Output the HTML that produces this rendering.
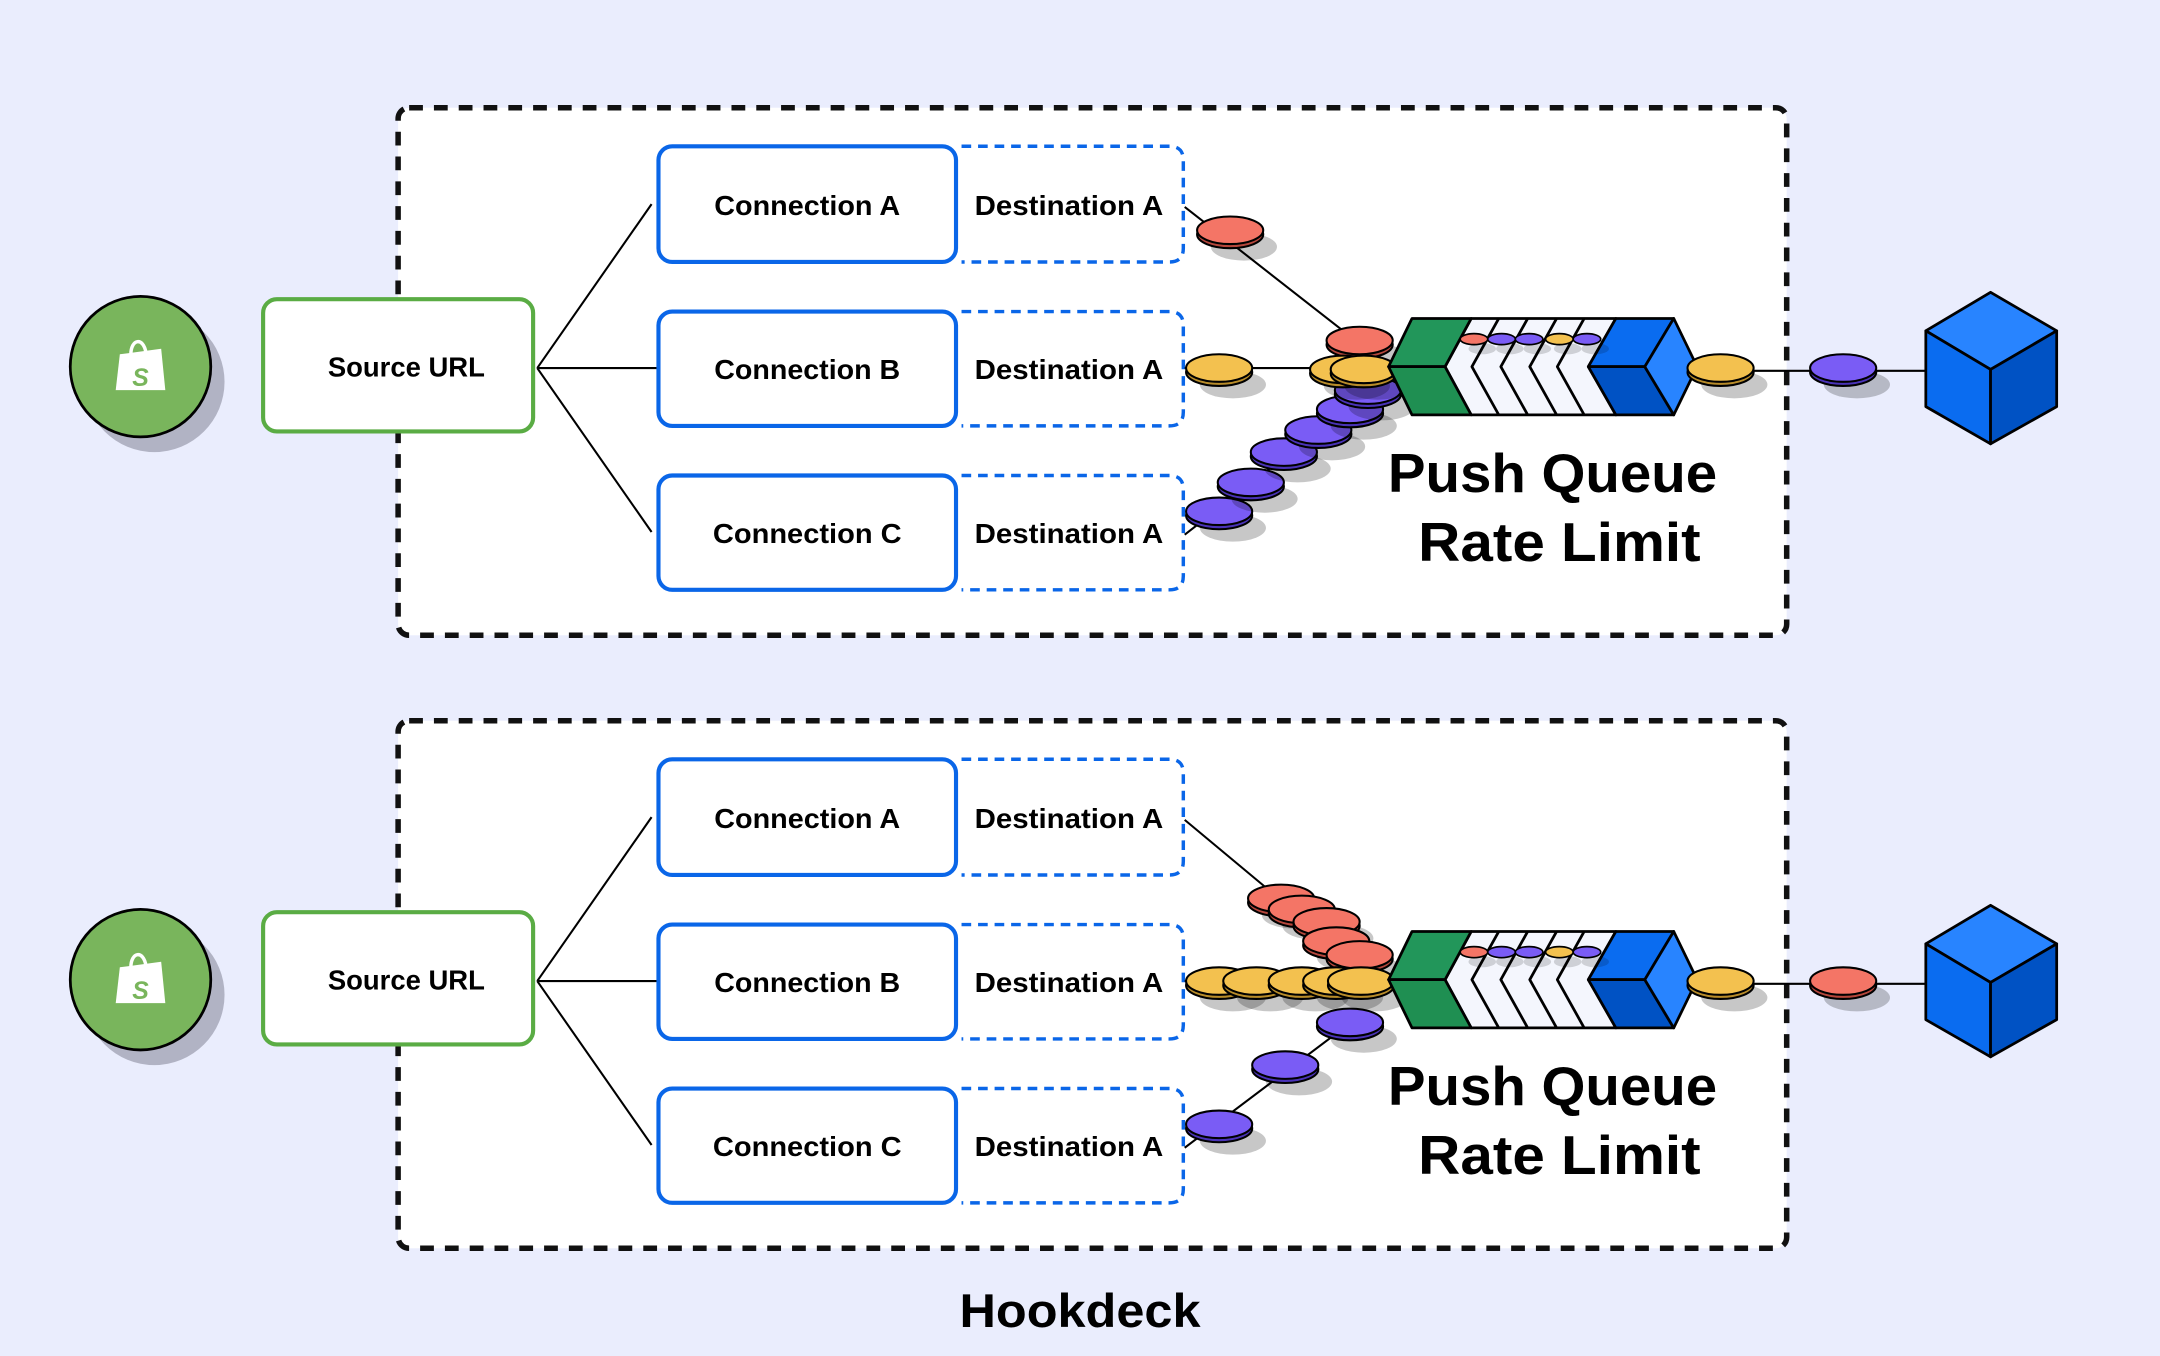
<!DOCTYPE html>
<html><head><meta charset="utf-8"><style>
html,body{margin:0;padding:0;background:#eaedfd;}
svg{display:block}
text{font-family:"Liberation Sans",sans-serif;font-weight:bold;fill:#000}
</style></head><body>
<svg width="2160" height="1356" viewBox="0 0 1568 984" xmlns="http://www.w3.org/2000/svg">
<defs>
<g id="pr"><ellipse cx="10" cy="12" rx="24" ry="10" fill="#000" opacity=".22"/><ellipse cx="0" cy="3" rx="24" ry="10" fill="#b5473c" stroke="#000" stroke-width="1.5"/><ellipse cx="0" cy="0" rx="24" ry="10" fill="#f47566" stroke="#000" stroke-width="1.5"/></g>
<g id="py"><ellipse cx="10" cy="12" rx="24" ry="10" fill="#000" opacity=".22"/><ellipse cx="0" cy="3" rx="24" ry="10" fill="#b88c2a" stroke="#000" stroke-width="1.5"/><ellipse cx="0" cy="0" rx="24" ry="10" fill="#f3c14f" stroke="#000" stroke-width="1.5"/></g>
<g id="pp"><ellipse cx="10" cy="12" rx="24" ry="10" fill="#000" opacity=".22"/><ellipse cx="0" cy="3" rx="24" ry="10" fill="#4a33b8" stroke="#000" stroke-width="1.5"/><ellipse cx="0" cy="0" rx="24" ry="10" fill="#7a5cf5" stroke="#000" stroke-width="1.5"/></g>

<g id="panel">
  <rect x="289" y="78" width="1008" height="383" rx="8" fill="#fff" stroke="#111" stroke-width="4" stroke-dasharray="10 8"/>
  <!-- shopify -->
  <circle cx="112" cy="277" r="51" fill="#b1b3c4"/>
  <circle cx="102" cy="266" r="51" fill="#79b55c" stroke="#000" stroke-width="2"/>
  <path d="M87 257 L117 253 L120 283 L84 283 Z" fill="#fff"/>
  <path d="M95 257 C95 246 104 244 106 256" fill="none" stroke="#fff" stroke-width="2.5"/>
  <text x="96" y="280" font-size="18" fill="#79b55c" style="fill:#79b55c;font-style:italic">S</text>
  <!-- source -->
  <rect x="191" y="217" width="196" height="96" rx="10" fill="#fff" stroke="#5aac44" stroke-width="3"/>
  <text x="295" y="273" font-size="20" text-anchor="middle" textLength="114" lengthAdjust="spacingAndGlyphs">Source URL</text>
  <path d="M390 267 L473 148 M390 267 L477 267 M390 267 L473 386" stroke="#000" stroke-width="1.5" fill="none"/>
  <!-- connections -->
  <rect x="478" y="106" width="216" height="84" rx="10" fill="#fff" stroke="#0a66e8" stroke-width="3"/>
  <rect x="478" y="226" width="216" height="83" rx="10" fill="#fff" stroke="#0a66e8" stroke-width="3"/>
  <rect x="478" y="345" width="216" height="83" rx="10" fill="#fff" stroke="#0a66e8" stroke-width="3"/>
  <text x="586" y="156" font-size="20" text-anchor="middle" textLength="135" lengthAdjust="spacingAndGlyphs">Connection A</text>
  <text x="586" y="275" font-size="20" text-anchor="middle" textLength="135" lengthAdjust="spacingAndGlyphs">Connection B</text>
  <text x="586" y="394" font-size="20" text-anchor="middle" textLength="137" lengthAdjust="spacingAndGlyphs">Connection C</text>
  <g fill="none" stroke="#0a66e8" stroke-width="2.5" stroke-dasharray="7 5">
    <path d="M698 106 H849 Q859 106 859 116 V180 Q859 190 849 190 H698"/>
    <path d="M698 226 H849 Q859 226 859 236 V299 Q859 309 849 309 H698"/>
    <path d="M698 345 H849 Q859 345 859 355 V418 Q859 428 849 428 H698"/>
  </g>
  <text x="776" y="156" font-size="20" text-anchor="middle" textLength="137" lengthAdjust="spacingAndGlyphs">Destination A</text>
  <text x="776" y="275" font-size="20" text-anchor="middle" textLength="137" lengthAdjust="spacingAndGlyphs">Destination A</text>
  <text x="776" y="394" font-size="20" text-anchor="middle" textLength="137" lengthAdjust="spacingAndGlyphs">Destination A</text>
  <!-- output line -->
  <line x1="1232" y1="269" x2="1400" y2="269" stroke="#000" stroke-width="1.5"/>
  <!-- cube -->
  <g stroke="#000" stroke-width="2" stroke-linejoin="round">
    <path d="M1445 212 L1493 240 L1445 268 L1398 240 Z" fill="#2884ff"/>
    <path d="M1398 240 L1445 268 L1445 322 L1398 295 Z" fill="#0a6cf0"/>
    <path d="M1493 240 L1445 268 L1445 322 L1493 295 Z" fill="#0052c4"/>
  </g>
  <text x="1127" y="357" font-size="40" text-anchor="middle" textLength="239" lengthAdjust="spacingAndGlyphs">Push Queue</text>
  <text x="1132" y="407" font-size="40" text-anchor="middle" textLength="205" lengthAdjust="spacingAndGlyphs">Rate Limit</text>
</g>

<g id="queue" stroke="#000" stroke-width="2" stroke-linejoin="round">
  <path d="M1068 231 L1173 231 L1153 266 L1173 301 L1068 301 L1049 266 Z" fill="#f4f6fd"/>
  <path d="M1088 231 L1068.5 266 L1088 301 M1109 231 L1089.5 266 L1109 301 M1130 231 L1110.5 266 L1130 301 M1150 231 L1130.5 266 L1150 301" fill="none"/>
  <path d="M1008 266 L1025 231 L1068 231 L1049 266 Z" fill="#22965a"/>
  <path d="M1008 266 L1025 301 L1068 301 L1049 266 Z" fill="#1f8f52"/>
  <path d="M1153 266 L1173 231 L1215 231 L1194 266 Z" fill="#0a6cf0"/>
  <path d="M1153 266 L1173 301 L1215 301 L1194 266 Z" fill="#0052c4"/>
  <path d="M1215 231 L1232 266 L1215 301 L1194 266 Z" fill="#2884ff"/>
  <g stroke="none" fill="#000" opacity=".15">
    <ellipse cx="1076" cy="253" rx="10" ry="4"/><ellipse cx="1096" cy="253" rx="10" ry="4"/><ellipse cx="1116" cy="253" rx="10" ry="4"/><ellipse cx="1138" cy="253" rx="10" ry="4"/><ellipse cx="1158" cy="253" rx="10" ry="4"/>
  </g>
  <g stroke-width="1.2">
    <ellipse cx="1070" cy="246" rx="10" ry="4" fill="#f47566"/>
    <ellipse cx="1090" cy="246" rx="10" ry="4" fill="#7a5cf5"/>
    <ellipse cx="1110" cy="246" rx="10" ry="4" fill="#7a5cf5"/>
    <ellipse cx="1132" cy="246" rx="10" ry="4" fill="#f3c14f"/>
    <ellipse cx="1152" cy="246" rx="10" ry="4" fill="#7a5cf5"/>
  </g>
</g>
</defs>

<!-- PANEL 1 -->
<use href="#panel"/>
<path d="M860 150 L975 240 M860 267 L1010 267 M860 388 L995 283" stroke="#000" stroke-width="1.5" fill="none"/>
<use href="#pr" x="893" y="167"/>
<use href="#py" x="885" y="267"/>
<use href="#pp" x="885" y="371"/>
<use href="#pp" x="908" y="350"/>
<use href="#pp" x="932" y="328"/>
<use href="#pp" x="957" y="312"/>
<use href="#pp" x="980" y="297"/>
<use href="#pp" x="993" y="283"/>
<use href="#pr" x="987" y="247"/>
<use href="#py" x="975" y="268"/>
<use href="#py" x="990" y="268"/>
<use href="#queue"/>
<use href="#py" x="1249" y="267"/>
<use href="#pp" x="1338" y="267"/>

<!-- PANEL 2 -->
<g transform="translate(0,445)">
<use href="#panel"/>
<path d="M860 150 L920 200 M860 267 L1010 267 M860 388 L990 290" stroke="#000" stroke-width="1.5" fill="none"/>
<use href="#pr" x="930" y="207"/>
<use href="#pr" x="945" y="215"/>
<use href="#pr" x="963" y="224"/>
<use href="#pr" x="970" y="238"/>
<use href="#pr" x="987" y="248"/>
<use href="#py" x="885" y="267"/>
<use href="#py" x="912" y="267"/>
<use href="#py" x="945" y="267"/>
<use href="#py" x="970" y="267"/>
<use href="#py" x="988" y="267"/>
<use href="#pp" x="885" y="371"/>
<use href="#pp" x="933" y="328"/>
<use href="#pp" x="980" y="297"/>
<use href="#queue"/>
<use href="#py" x="1249" y="267"/>
<use href="#pr" x="1338" y="267"/>
</g>

<text x="784" y="963" font-size="34" text-anchor="middle" textLength="175" lengthAdjust="spacingAndGlyphs">Hookdeck</text>
</svg>
</body></html>
